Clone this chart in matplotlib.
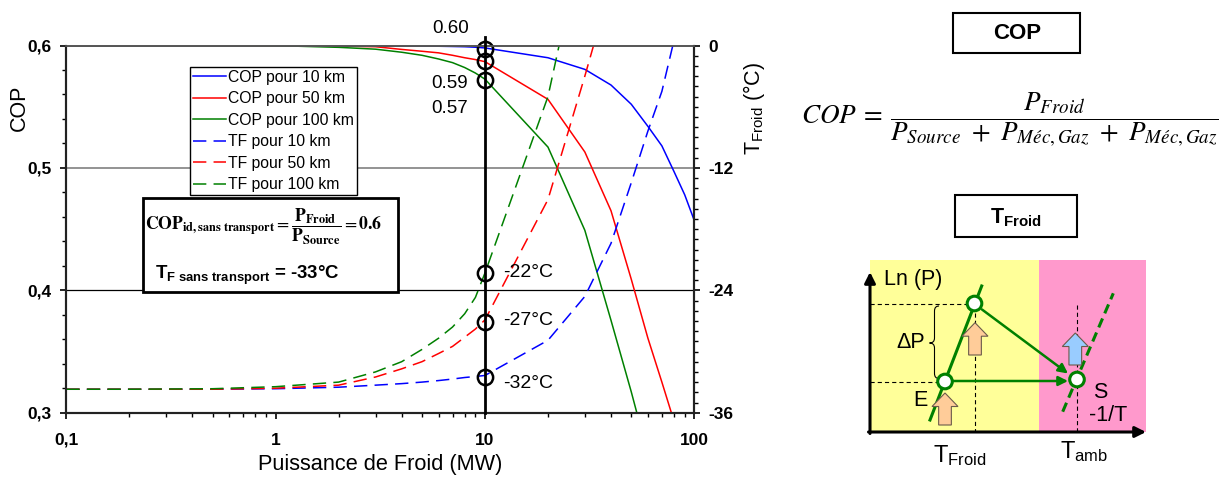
import numpy as np
import matplotlib
matplotlib.use("Agg")
import matplotlib.pyplot as plt
from matplotlib.ticker import MultipleLocator, LogLocator, NullFormatter
from matplotlib.patches import Rectangle, FancyArrow, Circle, PathPatch
from matplotlib.path import Path

plt.rcParams["font.family"] = ["Liberation Sans", "DejaVu Sans"]
plt.rcParams["mathtext.fontset"] = "custom"
plt.rcParams["mathtext.rm"] = "Liberation Sans"
plt.rcParams["mathtext.it"] = "Liberation Sans:italic"
plt.rcParams["mathtext.bf"] = "Liberation Sans:bold"
plt.rcParams["lines.scale_dashes"] = False

# ---- données ----
PUISSANCE = [0.1, 0.2, 0.5, 1, 2, 3, 4, 5, 6, 7, 8, 9, 10, 20, 30, 40, 50, 60, 70, 80, 90, 100]

COP_10 = [0.6, 0.6, 0.6, 0.6, 0.5999, 0.5998, 0.5997, 0.5996, 0.5994, 0.5992, 0.599, 0.5986, 0.598,
          0.590, 0.5805, 0.5677, 0.552, 0.534, 0.518, 0.497, 0.478, 0.457]
COP_50 = [0.6, 0.6, 0.6, 0.6, 0.5995, 0.599, 0.5968, 0.5953, 0.594, 0.592, 0.590, 0.5885, 0.5868,
          0.556, 0.513, 0.465, 0.409, 0.361, 0.325, 0.293, 0.265, 0.24]
COP_100 = [0.6, 0.6, 0.6, 0.5999, 0.5985, 0.597, 0.5945, 0.592, 0.589, 0.586, 0.582, 0.5775, 0.5725,
           0.517, 0.449, 0.3755, 0.317, 0.266, 0.22, 0.18, 0.14, 0.10]

TF_10 = [-33.7, -33.7, -33.7, -33.65, -33.5, -33.3, -33.15, -33.0, -32.85, -32.7, -32.55, -32.45, -32.35,
         -28.9, -24.6, -19.4, -13.45, -8.4, -4.5, 0.5, 4.0, 7.0]
TF_50 = [-33.7, -33.7, -33.7, -33.6, -33.3, -32.5, -31.7, -31.0, -30.2, -29.5, -28.6, -27.8, -26.9,
         -15.1, -3.0, 6.0, 12.0, 18.0, 22.0, 26.0, 30.0, 34.0]
TF_100 = [-33.7, -33.7, -33.65, -33.45, -33.0, -32.0, -31.0, -29.8, -28.7, -27.6, -26.3, -24.7, -22.3,
          -5.0, 11.6, 25.0, 35.0, 40.0, 45.0, 50.0, 55.0, 60.0]

NOMS_COP = ["COP pour 10 km", "COP pour 50 km", "COP pour 100 km"]
NOMS_TF = ["TF pour 10 km", "TF pour 50 km", "TF pour 100 km"]
COULEURS = ["#0000FF", "#FF0000", "#008000"]

P_REPERE = 10
COP_REPERES = [0.597, 0.587, 0.572]
COP_ETIQUETTES = ["0.60", "0.59", "0.57"]
TF_REPERES = [-22.3, -27.1, -32.5]
TF_ETIQUETTES = ["-22°C", "-27°C", "-32°C"]

W, H = 1219, 478
fig = plt.figure(figsize=(W / 100, H / 100), dpi=100)

# axes principal (coordonnées en pixels du modèle)
x0, x1, y0, y1 = 66.3, 694.3, 45.5, 412.7
ax = fig.add_axes([x0 / W, 1 - y1 / H, (x1 - x0) / W, (y1 - y0) / H])
ax2 = ax.twinx()

ax.set_xscale("log")
ax.set_xlim(0.1, 100)
ax.set_ylim(0.3, 0.6)
ax2.set_ylim(-36, 0)

ax.axhline(0.5, color="#808080", lw=1.2, zorder=1)
ax.axhline(0.4, color="black", lw=0.9, zorder=1)

for nom, vals, c in zip(NOMS_COP, [COP_10, COP_50, COP_100], COULEURS):
    ax.plot(PUISSANCE, vals, color=c, lw=1.1, label=nom, zorder=2)
for nom, vals, c in zip(NOMS_TF, [TF_10, TF_50, TF_100], COULEURS):
    ax2.plot(PUISSANCE, vals, color=c, lw=1.1, dashes=(9.6, 5.2), label=nom, zorder=2)

ax2.axvline(P_REPERE, ymin=0, ymax=1 + 8.5 / (y1 - y0), color="black", lw=2.0, clip_on=False, zorder=3)
ax.plot([P_REPERE] * 3, COP_REPERES, "o", ms=11, mfc="none", mec="black", mew=1.8, zorder=4, clip_on=False)
ax2.plot([P_REPERE] * 3, TF_REPERES, "o", ms=11, mfc="none", mec="black", mew=1.8, zorder=4)

for val, txt, off in zip(COP_REPERES, COP_ETIQUETTES, [(-34.5, 21), (-35, -22), (-35, -29)]):
    ax.annotate(txt, xy=(P_REPERE, val), xytext=off, textcoords="offset pixels",
                ha="center", va="center", fontsize=13.5, annotation_clip=False)
for val, txt, off in zip(TF_REPERES, TF_ETIQUETTES, [(17.7, 0.5), (17.7, 1), (17.7, -6.3)]):
    ax2.annotate(txt, xy=(P_REPERE, val), xytext=off, textcoords="offset pixels",
                 ha="left", va="center", fontsize=14, annotation_clip=False)

# ticks
ax.set_xticks([0.1, 1, 10, 100])
ax.set_xticklabels(["0,1", "1", "10", "100"], fontweight="bold")
ax.xaxis.set_minor_locator(LogLocator(base=10, subs=np.arange(2, 10)))
ax.xaxis.set_minor_formatter(NullFormatter())
ax.set_yticks([0.3, 0.4, 0.5, 0.6])
ax.set_yticklabels(["0,3", "0,4", "0,5", "0,6"], fontweight="bold")
ax.yaxis.set_minor_locator(MultipleLocator(0.02))
ax2.set_yticks([-36, -24, -12, 0])
ax2.set_yticklabels(["-36", "-24", "-12", "0"], fontweight="bold")
ax2.yaxis.set_minor_locator(MultipleLocator(1))

ax.tick_params(axis="both", which="major", direction="out", length=4.5, width=1.2, labelsize=12.5)
ax.tick_params(axis="both", which="minor", direction="out", length=3, width=1.0)
ax.tick_params(axis="x", which="major", pad=10)
ax.tick_params(axis="y", which="major", pad=6)
ax2.tick_params(axis="y", which="major", direction="out", length=4.5, width=1.2, labelsize=12.5, pad=5.5)
ax2.tick_params(axis="y", which="minor", direction="out", length=3, width=1.0)

for a in (ax, ax2):
    for s in ("left", "right", "bottom"):
        a.spines[s].set_linewidth(1.5)
        a.spines[s].set_color("#222222")
    a.spines["top"].set_color("#555555")
    a.spines["top"].set_linewidth(1.2)

ax.set_ylabel("COP", fontsize=15.5)
ax.yaxis.set_label_coords(-0.058, 0.83)
ax2.set_ylabel(r"T$_{\mathrm{Froid}}$ (°C)", fontsize=15.5)
ax2.yaxis.set_label_coords(1.074, 0.83)
ax.set_xlabel("Puissance de Froid (MW)", fontsize=15.7)
ax.xaxis.set_label_coords(0.5, -0.1125)

poignees = ax.get_lines()[2:5] + ax2.get_lines()[0:3]
leg = ax2.legend(poignees, NOMS_COP + NOMS_TF, loc="upper left", bbox_to_anchor=(0.197, 0.9423),
                 borderaxespad=0, fontsize=11.3, handlelength=2.1, handletextpad=0.15,
                 labelspacing=0.41, borderpad=0.2, fancybox=False, edgecolor="black", framealpha=1)
leg.get_frame().set_linewidth(1.0)
leg.set_zorder(10)

# calque en pixels pour encadrés et schéma
ov = fig.add_axes([0, 0, 1, 1])
ov.set_xlim(0, W)
ov.set_ylim(H, 0)
ov.axis("off")

ov.add_patch(Rectangle((142.7, 198.3), 255.6, 93.4, fc="white", ec="black", lw=2.0, zorder=5))
ov.text(264, 226.7,
        r"$\mathbf{COP}_{\mathbf{id,sans\ transport}} = \dfrac{\mathbf{P}_{\mathbf{Froid}}}{\mathbf{P}_{\mathbf{Source}}} = \mathbf{0.6}$",
        ha="center", va="center", fontsize=12.7, math_fontfamily="stix", zorder=6)
ov.text(155, 279.3, r"$\mathbf{T}_{\mathbf{F\ sans\ transport}}$ = -33°C", ha="left", va="baseline",
        fontsize=13.4, fontweight="bold", zorder=6)

# panneau droit
ov.add_patch(Rectangle((953.3, 13.3), 126.7, 40, fc="white", ec="black", lw=1.5))
ov.text(1016.7, 33.3, "COP", ha="center", va="center", fontsize=16, fontweight="bold")
ov.text(1010, 120,
        r"$COP \:=\: \dfrac{P_{Froid}}{P_{Source}\ +\ P_{Méc,Gaz}\ +\ P_{Méc,Gaz}}$",
        ha="center", va="center", fontsize=19.5, math_fontfamily="stix")
ov.add_patch(Rectangle((955, 195), 121.7, 41.7, fc="white", ec="black", lw=1.5))
ov.text(1016, 223.5, r"$\mathbf{T}_{\mathbf{Froid}}$", ha="center", va="baseline", fontsize=15.5)

VERT = "#008000"
ov.add_patch(Rectangle((870, 260), 169, 172, fc="#FFFF99", ec="none", zorder=1))
ov.add_patch(Rectangle((1039, 260), 107, 172, fc="#FF99CC", ec="none", zorder=1))

tirets = dict(color="black", lw=0.8, dashes=(3, 2.2), zorder=2)
ov.plot([870, 966], [303.5, 303.5], **tirets)
ov.plot([870, 937], [381.5, 381.5], **tirets)
ov.plot([975, 975], [313, 432], **tirets)
ov.plot([1077, 1077], [305, 432], **tirets)

ov.plot([930, 981.7], [420, 286], color=VERT, lw=2.2, zorder=3)
ov.plot([1062.7, 1113.3], [411.7, 293.3], color=VERT, lw=2.2, dashes=(7, 4), zorder=3)
ov.annotate("", xy=(1068, 373.5), xytext=(982, 309.5),
            arrowprops=dict(arrowstyle="-|>", color=VERT, lw=1.8, mutation_scale=14, shrinkA=0, shrinkB=0),
            zorder=3)
ov.annotate("", xy=(1068, 381), xytext=(953, 381),
            arrowprops=dict(arrowstyle="-|>", color=VERT, lw=1.8, mutation_scale=14, shrinkA=0, shrinkB=0),
            zorder=3)

for (bx, by, top), fc in zip([(945, 425, 393), (975, 355, 322.7), (1075.3, 365, 333)],
                             ["#FFCC99", "#FFCC99", "#99CCFF"]):
    ov.add_patch(FancyArrow(bx, by, 0, top - by, width=12.7, head_width=26, head_length=13.5,
                            length_includes_head=True, fc=fc, ec="#6B5B4B", lw=0.8, zorder=4))

for cx, cy in [(945, 381.5), (974.5, 303.5), (1077, 379.5)]:
    ov.add_patch(Circle((cx, cy), 7.3, fc="white", ec=VERT, lw=2.2, zorder=5))

sommets = [(939, 306), (934.5, 306), (934.5, 311), (934.5, 338), (934.5, 343), (929.5, 343),
           (934.5, 343), (934.5, 348), (934.5, 373.5), (934.5, 378.5), (939, 378.5)]
codes = [Path.MOVETO, Path.CURVE3, Path.CURVE3, Path.LINETO, Path.CURVE3, Path.CURVE3,
         Path.CURVE3, Path.CURVE3, Path.LINETO, Path.CURVE3, Path.CURVE3]
ov.add_patch(PathPatch(Path(sommets, codes), fc="none", ec="black", lw=0.8, zorder=3))

fleche = dict(arrowstyle="-|>", color="black", lw=2.2, mutation_scale=16, shrinkA=0, shrinkB=0)
ov.annotate("", xy=(870, 272), xytext=(870, 433.5), arrowprops=fleche, zorder=6)
ov.annotate("", xy=(1146, 432), xytext=(868.5, 432), arrowprops=fleche, zorder=6)

ov.text(884, 280, "Ln (P)", ha="left", va="center", fontsize=15.5, zorder=6)
ov.text(911, 342, "ΔP", ha="center", va="center", fontsize=15.5, zorder=6)
ov.text(920, 400.8, "E", ha="center", va="center", fontsize=15.5, zorder=6)
ov.text(1100.5, 392.5, "S", ha="center", va="center", fontsize=15.5, zorder=6)
ov.text(1108, 415.8, "-1/T", ha="center", va="center", fontsize=15.5, zorder=6)
ov.text(933, 461.7, r"T$_{\mathrm{Froid}}$", ha="left", va="baseline", fontsize=17, zorder=6)
ov.text(1060, 458.3, r"T$_{\mathrm{amb}}$", ha="left", va="baseline", fontsize=17, zorder=6)

fig.savefig("out.png", dpi=100)
